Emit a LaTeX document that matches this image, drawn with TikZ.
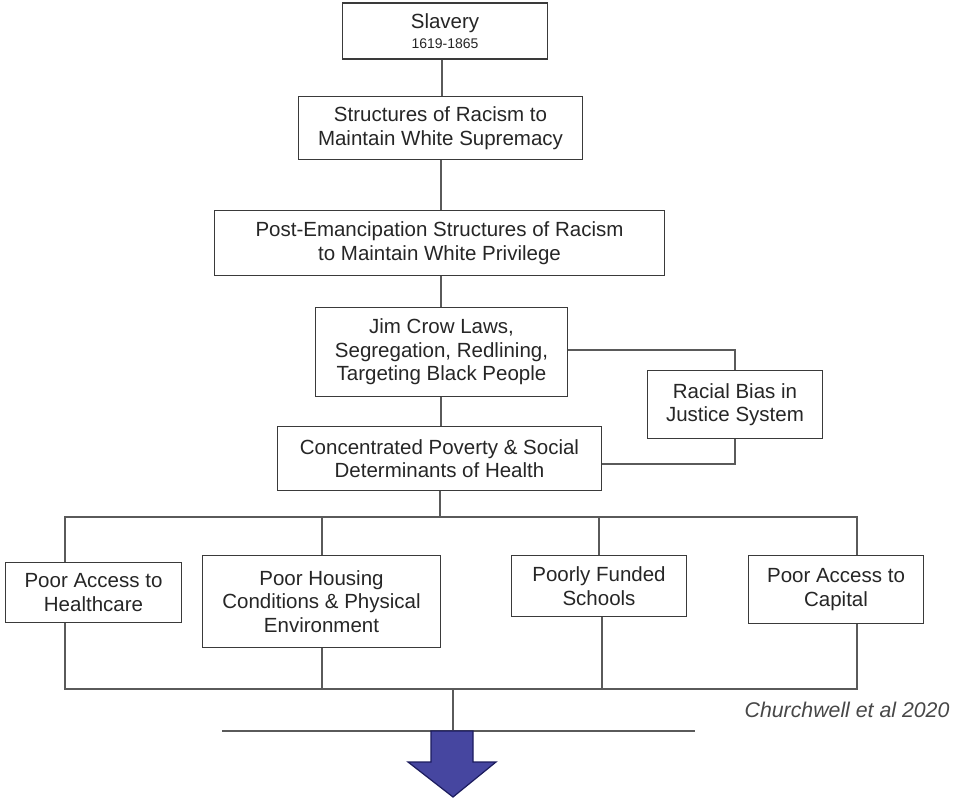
\documentclass[tikz,border=0pt]{standalone}
\usepackage{fontspec}
\setmainfont{Liberation Sans}
\begin{document}
\begin{tikzpicture}[x=1pt,y=-1pt,
  box/.style={draw=boxline, line width=1.2pt, fill=white, rectangle, align=center,
    inner sep=0pt, text=txt, font=\fontsize{20.5}{23.5}\selectfont},
  wire/.style={draw=wireline, line width=1.3pt},
  bigarrow/.style={fill=arrowfill, draw=arrowline, line width=1.2pt, line join=miter}]
\definecolor{boxline}{HTML}{3A3A3A}
\definecolor{wireline}{HTML}{5A5A5A}
\definecolor{txt}{HTML}{262626}
\definecolor{arrowfill}{HTML}{4646A0}
\definecolor{arrowline}{HTML}{1C1C5E}
\useasboundingbox (0,0) rectangle (955,800);

% chain of causes
\node[box, minimum width=205, minimum height=56] (slav) at (445,31)
  {Slavery\\[-3pt]{\fontsize{14}{16}\selectfont 1619-1865}};
\node[box, minimum width=284, minimum height=63] (struct) at (440.5,128)
  {Structures of Racism to\\Maintain White Supremacy};
\node[box, minimum width=450, minimum height=65] (post) at (439.5,243)
  {Post-Emancipation Structures of Racism\\to Maintain White Privilege};
\node[box, minimum width=252, minimum height=89] (jim) at (441.5,352)
  {Jim Crow Laws,\\Segregation, Redlining,\\Targeting Black People};
\node[box, minimum width=175, minimum height=68] (bias) at (735,404.5)
  {Racial Bias in\\Justice System};
\node[box, minimum width=324, minimum height=64] (conc) at (439.5,458.5)
  {Concentrated Poverty \& Social\\Determinants of Health};

% outcomes
\node[box, minimum width=176, minimum height=60] (health) at (93.5,592.5)
  {Poor Access to\\Healthcare};
\node[box, minimum width=238, minimum height=92] (house) at (321.5,601.5)
  {Poor Housing\\Conditions \& Physical\\Environment};
\node[box, minimum width=175, minimum height=61] (school) at (599,586)
  {Poorly Funded\\Schools};
\node[box, minimum width=175, minimum height=68] (cap) at (836,589.5)
  {Poor Access to\\Capital};

\node[anchor=east, text=txt!85, font=\fontsize{21.3}{24}\selectfont\itshape]
  (cite) at (953,710) {Churchwell et al 2020};

% bus points
\coordinate (topbus) at (440,517);
\coordinate (botbus) at (453,689);
\coordinate (lowbar) at (453,731);
\coordinate (lowL) at (222,731);
\coordinate (lowR) at (695,731);

% vertical chain
\draw[wire] (slav.south -| 442,0) -- (struct.north -| 442,0);
\draw[wire] (struct.south -| 441,0) -- (post.north -| 441,0);
\draw[wire] (post.south -| 441,0) -- (jim.north -| 441,0);
\draw[wire] (jim.south -| 441,0) -- (conc.north -| 441,0);
\draw[wire] (jim.east |- 0,350) -| (bias.north);
\draw[wire] (bias.south) |- (conc.east |- 0,464);
\draw[wire] (conc.south -| topbus) -- (topbus);

% fan out
\draw[wire] (health.north -| 65,0) -- (65,517) -- (857,517) -- (cap.north -| 857,0);
\draw[wire] (house.north -| 322,0) -- (322,517);
\draw[wire] (school.north -| 599,0) -- (599,517);

% fan in
\draw[wire] (health.south -| 65,0) -- (65,689) -- (857,689) -- (cap.south -| 857,0);
\draw[wire] (house.south -| 322,0) -- (322,689);
\draw[wire] (school.south -| 602,0) -- (602,689);
\draw[wire] (botbus) -- (lowbar);
\draw[wire] (lowL) -- (lowR);

% block arrow
\draw[bigarrow] (431,731) -- (473,731) -- (473,762) -- (496,762) -- (453,797)
  -- (408,762) -- (431,762) -- cycle;
\end{tikzpicture}
\end{document}
